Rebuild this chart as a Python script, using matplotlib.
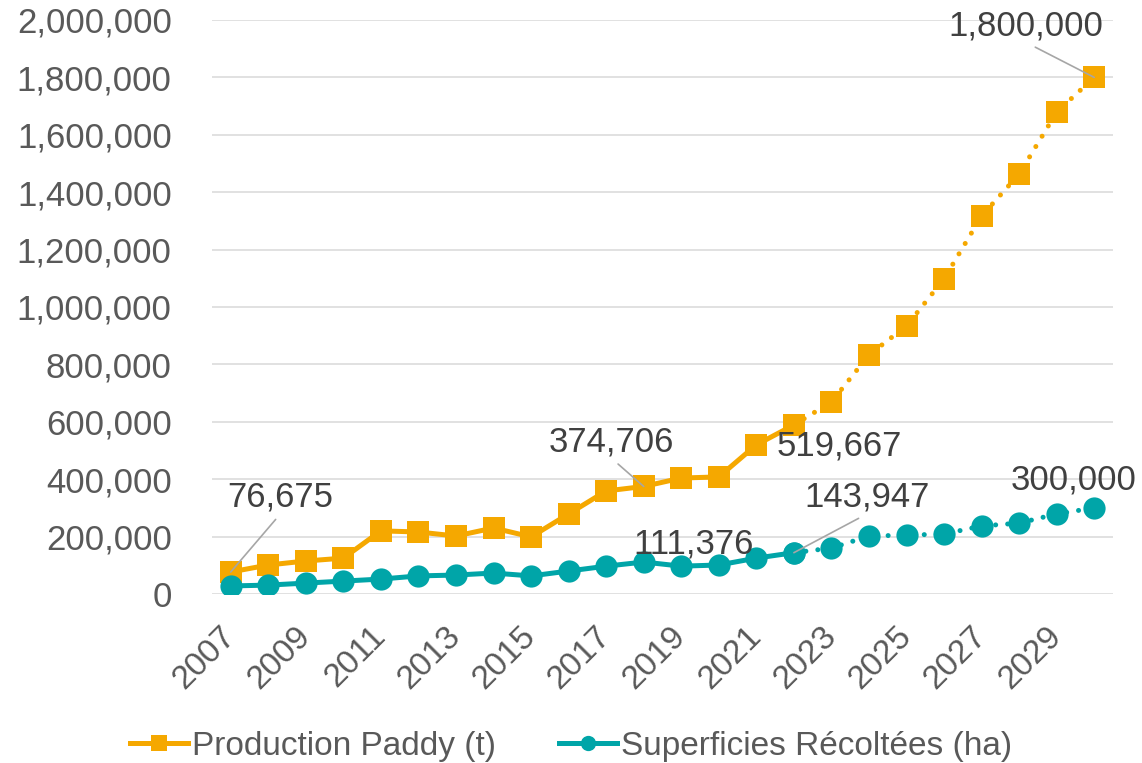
import matplotlib.pyplot as plt
from matplotlib.lines import Line2D
from matplotlib.ticker import FuncFormatter

plt.rcParams['font.family'] = ['Liberation Sans', 'DejaVu Sans']

years = list(range(2007, 2031))
production = [76675, 101000, 115000, 125000, 220000, 216000, 202000, 230000,
              199000, 279000, 359000, 374706, 404000, 408000, 519667, 589000,
              669000, 833000, 934000, 1098000, 1317000, 1463000, 1679000, 1800000]
superficies = [28000, 31000, 38000, 45000, 52000, 63000, 66000, 73000,
               63000, 80000, 97000, 111376, 97000, 101000, 125000, 143947,
               160000, 202000, 205000, 209000, 237000, 247000, 279000, 300000]
last_actual = 2022  # solid up to here, dotted projection after
tick_years = years[::2]

# (year, series, text, offset in points, leader line)
labels = [
    (2007, 'prod', '76,675', (36, 54), True),
    (2018, 'prod', '374,706', (-23, 32), True),
    (2021, 'prod', '519,667', (60, -1), False),
    (2018, 'sup', '111,376', (36, 13), False),
    (2022, 'sup', '143,947', (53, 40), True),
    (2030, 'sup', '300,000', (-15, 20), False),
    (2030, 'prod', '1,800,000', (-49, 37), True),
]

ORANGE = '#F5A800'
TEAL = '#00A5A8'
FS = 25

fig = plt.figure(figsize=(11.42, 7.63), dpi=100)
ax = fig.add_axes([0.1856, 0.2215, 0.789, 0.7523])

split = years.index(last_actual) + 1
for vals, color, marker in [(production, ORANGE, 's'), (superficies, TEAL, 'o')]:
    ax.plot(years[:split], vals[:split], color=color, lw=3.6, marker=marker,
            ms=16, mew=0, solid_capstyle='round')
    ax.plot(years[split - 1:], vals[split - 1:], color=color, lw=0, marker=marker,
            ms=16, mew=0)
    ax.plot(years[split - 1:], vals[split - 1:], color=color, lw=3.6,
            linestyle=(0, (0.01, 2.4)), dash_capstyle='round', zorder=3)

series = {'prod': production, 'sup': superficies}
for yr, key, txt, off, leader in labels:
    val = series[key][years.index(yr)]
    kw = {}
    if leader:
        kw['arrowprops'] = dict(arrowstyle='-', color='#A6A6A6', lw=1.2,
                                shrinkA=3, shrinkB=0, relpos=(0.5, 0))
    ax.annotate(txt, xy=(yr, val), xytext=off, textcoords='offset points',
                ha='center', va='center', fontsize=FS, color='#404040',
                zorder=5, **kw)

ax.set_xlim(2006.5, 2030.5)
ax.set_ylim(0, 2000000)
ax.set_yticks(range(0, 2000001, 200000))
ax.yaxis.set_major_formatter(FuncFormatter(lambda v, p: f'{int(v):,}'))
ax.set_xticks(tick_years)
ax.set_xticklabels([str(y) for y in tick_years], rotation=45, ha='right',
                   va='center', rotation_mode='anchor')
ax.tick_params(axis='y', length=0, pad=29, labelsize=FS, labelcolor='#595959')
ax.tick_params(axis='x', length=0, pad=27, labelsize=FS - 1, labelcolor='#595959')
ax.grid(axis='y', color='#D9D9D9', lw=1.1)
ax.set_axisbelow(True)
for s in ax.spines.values():
    s.set_visible(False)

handles = [
    Line2D([], [], color=ORANGE, lw=3.6, marker='s', ms=11, mew=0,
           label='Production Paddy (t)'),
    Line2D([], [], color=TEAL, lw=3.6, marker='o', ms=11, mew=0,
           label='Superficies Récoltées (ha)'),
]
fig.legend(handles=handles, loc='lower center', bbox_to_anchor=(0.5, -0.038),
           ncol=2, frameon=False, fontsize=24, handlelength=1.75,
           handletextpad=0.1, columnspacing=1.9, labelcolor='#595959')

fig.savefig('out.png', dpi=100)
